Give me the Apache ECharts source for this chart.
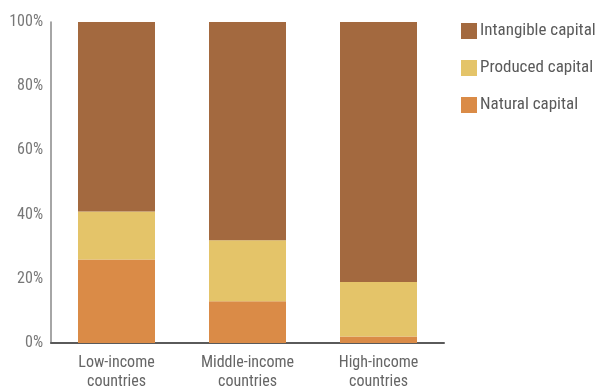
<!DOCTYPE html>
<html>
<head>
<meta charset="utf-8">
<script src="https://cdn.jsdelivr.net/npm/echarts@6/dist/echarts.min.js"></script>
<style>
  html, body { margin: 0; padding: 0; background: #fff; }
  #chart { width: 601px; height: 388px; }
</style>
</head>
<body>
<div id="chart"></div>
<script>
// Shares of total wealth by income group (percent)
var categories = ['Low-income\ncountries', 'Middle-income\ncountries', 'High-income\ncountries'];
var naturalCapital = [26, 13, 2];
var producedCapital = [15, 19, 17];
var intangibleCapital = [59, 68, 81];
var yTicks = [0, 20, 40, 60, 80, 100];

var FONT = '"Roboto Condensed", "Noto Sans", sans-serif';
var COLORS = {
  natural: '#DA8B47',
  produced: '#E4C469',
  intangible: '#A3693F'
};

var chart = echarts.init(document.getElementById('chart'), null, { renderer: 'canvas' });

function barSeries(name, data, color) {
  return {
    name: name,
    type: 'bar',
    stack: 'wealth',
    barWidth: 77,
    data: data,
    itemStyle: { color: color },
    emphasis: { disabled: true }
  };
}

chart.setOption({
  animation: false,
  grid: { left: 51, right: 157, top: 22, bottom: 45, containLabel: false, outerBoundsMode: 'none' },
  legend: {
    orient: 'vertical',
    left: 456,
    top: 17,
    itemWidth: 16,
    itemHeight: 16,
    itemGap: 19,
    icon: 'rect',
    data: ['Intangible capital', 'Produced capital', 'Natural capital'],
    textStyle: { fontFamily: FONT, fontSize: 17, lineHeight: 18, color: '#5a5a5a', padding: [0, 0, 0, -2] },
    selectedMode: false
  },
  xAxis: {
    type: 'category',
    data: categories,
    axisLine: { lineStyle: { color: '#5a5a5a', width: 2 } },
    axisTick: { show: false },
    axisLabel: {
      fontFamily: FONT, fontSize: 16, color: '#666',
      lineHeight: 19, margin: 10, interval: 0
    }
  },
  yAxis: {
    type: 'value',
    min: 0,
    max: 100,
    interval: 20,
    axisLine: { show: true, lineStyle: { color: '#888', width: 1.5 } },
    axisTick: { show: false },
    splitLine: { show: false },
    axisLabel: {
      fontFamily: FONT, fontSize: 16, color: '#777', margin: 8,
      formatter: function (v) { return yTicks.indexOf(v) >= 0 ? v + '%' : ''; }
    }
  },
  series: [
    barSeries('Natural capital', naturalCapital, COLORS.natural),
    barSeries('Produced capital', producedCapital, COLORS.produced),
    barSeries('Intangible capital', intangibleCapital, COLORS.intangible)
  ]
});
</script>
</body>
</html>
